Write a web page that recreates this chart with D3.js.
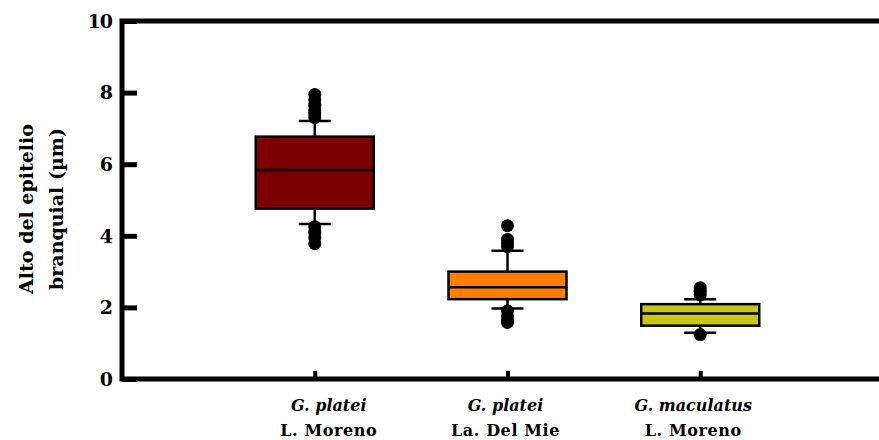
<!DOCTYPE html>
<html>
<head>
<meta charset="utf-8">
<script src="https://cdn.jsdelivr.net/npm/d3@7"></script>
<style>
  body { margin: 0; background: #fff; }
</style>
</head>
<body>
<div id="root"></div>
<script>
var width = 879;
var height = 440;
var svg = d3.select('#root')
    .append('svg')
    .attr('width', width).attr('height', height)
    .attr('font-family', "'DejaVu Serif', 'Liberation Serif', 'Times New Roman', serif")
    .attr('font-weight', 'bold');

var species = ['G. platei', 'G. platei', 'G. maculatus'];
var sites = ['L. Moreno', 'La. Del Mie', 'L. Moreno'];
var labelNudge = [14, -2, -7];
var colors = ['#7d0000', '#ff8000', '#c8c814'];
var q1 = [4.76, 2.23, 1.49];
var median = [5.84, 2.56, 1.83];
var q3 = [6.77, 3.0, 2.09];
var whiskerLow = [4.33, 1.97, 1.29];
var whiskerHigh = [7.21, 3.58, 2.23];
var outliersHigh = [[7.3, 7.4, 7.5, 7.65, 7.8, 7.95], [3.7, 3.8, 3.9, 4.28], [2.35, 2.45, 2.55]];
var outliersLow = [[4.25, 4.1, 3.95, 3.78], [1.9, 1.75, 1.65, 1.58], [1.24]];
var yTicks = [0, 2, 4, 6, 8, 10];

var padding = { left: 122, top: 21, bottom: 61 };
var ids = d3.range(species.length);

var xScale = d3.scalePoint()
    .domain(ids)
    .range([padding.left, 893])
    .padding(1);
var yScale = d3.scaleLinear()
    .domain([0, 10])
    .range([height - padding.bottom, padding.top]);

var boxW = 118;

// frame (left + top + bottom; right side is off the picture)
svg.append('path')
    .attr('d', 'M' + (width + 5) + ',' + yScale(10) + 'H' + padding.left + 'V' + yScale(0) + 'H' + (width + 5))
    .attr('fill', 'none').attr('stroke', '#000').attr('stroke-width', 5);

// y axis ticks
var yAxis = d3.axisRight(yScale).tickValues(yTicks).tickSize(15).tickFormat('');
var gy = svg.append('g').attr('transform', 'translate(' + padding.left + ',0)').call(yAxis);
gy.select('.domain').remove();
gy.selectAll('.tick line').attr('stroke', '#000').attr('stroke-width', 5);

svg.selectAll('.ylab').data(yTicks).enter()
    .append('text').attr('class', 'ylab')
    .attr('x', 112).attr('y', function (d) { return yScale(d); })
    .attr('dy', '0.36em').attr('text-anchor', 'end')
    .attr('font-size', 19).attr('letter-spacing', -1)
    .text(function (d) { return d; });

// x axis ticks
var xAxis = d3.axisTop(xScale).tickSize(8).tickFormat('');
var gx = svg.append('g').attr('transform', 'translate(0,' + yScale(0) + ')').call(xAxis);
gx.select('.domain').remove();
gx.selectAll('.tick line').attr('stroke', '#000').attr('stroke-width', 4);

svg.selectAll('.xsp').data(ids).enter()
    .append('text').attr('class', 'xsp')
    .attr('x', function (i) { return xScale(i) + labelNudge[i]; }).attr('y', 411)
    .attr('text-anchor', 'middle').attr('font-size', 16).attr('font-style', 'italic')
    .text(function (i) { return species[i]; });
svg.selectAll('.xsite').data(ids).enter()
    .append('text').attr('class', 'xsite')
    .attr('x', function (i) { return xScale(i) + labelNudge[i]; }).attr('y', 436)
    .attr('text-anchor', 'middle').attr('font-size', 16).attr('letter-spacing', 0.6)
    .text(function (i) { return sites[i]; });

// y title
var title = svg.append('text')
    .attr('transform', 'translate(0,209) rotate(-90)')
    .attr('text-anchor', 'middle').attr('font-size', 19);
title.append('tspan').attr('x', 0).attr('y', 33).text('Alto del epitelio');
title.append('tspan').attr('x', 0).attr('y', 63).text('branquial (\u00b5m)');

// boxes
var g = svg.selectAll('.box').data(ids).enter().append('g').attr('class', 'box');
g.append('line')
    .attr('x1', function (i) { return xScale(i); }).attr('x2', function (i) { return xScale(i); })
    .attr('y1', function (i) { return yScale(whiskerLow[i]); }).attr('y2', function (i) { return yScale(whiskerHigh[i]); })
    .attr('stroke', '#000').attr('stroke-width', 2.5);
[whiskerLow, whiskerHigh].forEach(function (arr) {
    g.append('line')
        .attr('x1', function (i) { return xScale(i) - 16; }).attr('x2', function (i) { return xScale(i) + 16; })
        .attr('y1', function (i) { return yScale(arr[i]); }).attr('y2', function (i) { return yScale(arr[i]); })
        .attr('stroke', '#000').attr('stroke-width', 2.5);
});
g.append('rect')
    .attr('x', function (i) { return xScale(i) - boxW / 2; })
    .attr('y', function (i) { return yScale(q3[i]); })
    .attr('width', boxW)
    .attr('height', function (i) { return yScale(q1[i]) - yScale(q3[i]); })
    .attr('fill', function (i) { return colors[i]; })
    .attr('stroke', '#000').attr('stroke-width', 2.5);
g.append('line')
    .attr('x1', function (i) { return xScale(i) - boxW / 2; }).attr('x2', function (i) { return xScale(i) + boxW / 2; })
    .attr('y1', function (i) { return yScale(median[i]); }).attr('y2', function (i) { return yScale(median[i]); })
    .attr('stroke', '#000').attr('stroke-width', 2.5);

// outliers
[outliersHigh, outliersLow].forEach(function (set) {
    g.selectAll(null)
        .data(function (i) { return set[i].map(function (v) { return { i: i, v: v }; }); })
        .enter().append('circle')
        .attr('cx', function (d) { return xScale(d.i); })
        .attr('cy', function (d) { return yScale(d.v); })
        .attr('r', 6.5)
        .attr('fill', '#000');
});
</script>
</body>
</html>
